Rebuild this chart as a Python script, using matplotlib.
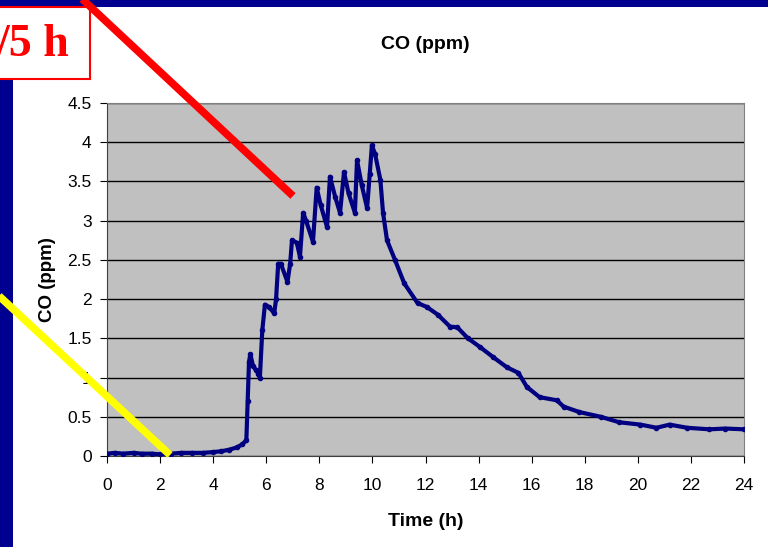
import matplotlib.pyplot as plt
from matplotlib.lines import Line2D
from matplotlib.patches import Rectangle

plt.rcParams['font.family'] = ['Liberation Sans', 'DejaVu Sans']

# CO concentration (time in h, CO in ppm)
horas = [0.0, 0.3, 0.6, 1.0, 1.3, 1.7, 2.0, 2.4, 2.8, 3.2, 3.6, 4.0, 4.3, 4.6,
         4.9, 5.1, 5.25, 5.3, 5.35, 5.4, 5.5, 5.6, 5.7, 5.76, 5.85, 5.95, 6.1,
         6.3, 6.37, 6.45, 6.55, 6.8, 6.9, 6.97, 7.15, 7.27, 7.39, 7.5, 7.76,
         7.9, 8.05, 8.29, 8.4, 8.6, 8.78, 8.93, 9.1, 9.34, 9.42, 9.6, 9.8,
         9.9, 9.98, 10.1, 10.3, 10.4, 10.55, 10.85, 11.2, 11.7, 12.05, 12.47,
         12.92, 13.2, 13.6, 14.05, 14.55, 15.07, 15.5, 15.82, 16.3, 16.95,
         17.2, 17.8, 18.6, 19.3, 20.1, 20.7, 21.2, 21.85, 22.7, 23.3, 24.0]
co = [0.03, 0.04, 0.03, 0.04, 0.03, 0.03, 0.02, 0.03, 0.04, 0.04, 0.04, 0.05,
      0.06, 0.08, 0.11, 0.15, 0.2, 0.7, 1.2, 1.3, 1.15, 1.1, 1.05, 1.0, 1.6,
      1.93, 1.9, 1.82, 2.0, 2.45, 2.45, 2.22, 2.45, 2.75, 2.72, 2.54, 3.1,
      3.0, 2.73, 3.42, 3.2, 2.92, 3.56, 3.3, 3.1, 3.62, 3.35, 3.1, 3.77,
      3.45, 3.16, 3.6, 3.96, 3.85, 3.52, 3.1, 2.75, 2.5, 2.2, 1.95, 1.9,
      1.8, 1.65, 1.64, 1.5, 1.39, 1.26, 1.13, 1.06, 0.88, 0.75, 0.71, 0.63,
      0.56, 0.5, 0.43, 0.40, 0.36, 0.40, 0.36, 0.34, 0.35, 0.34]

x_ticks = list(range(0, 25, 2))
y_ticks = [0, 0.5, 1, 1.5, 2, 2.5, 3, 3.5, 4, 4.5]
y_labels = ['0', '0.5', '1', '1.5', '2', '2.5', '3', '3.5', '4', '4.5']

fig = plt.figure(figsize=(7.68, 5.47), dpi=100)
W, H = 768.0, 547.0

# slide frame
fig.patches.append(Rectangle((0, 0), 13 / W, 1, transform=fig.transFigure,
                             facecolor='#000090', edgecolor='none', zorder=0))
fig.patches.append(Rectangle((0, 1 - 7 / H), 1, 7 / H, transform=fig.transFigure,
                             facecolor='#000090', edgecolor='none', zorder=0))

ax = fig.add_axes([107 / W, 1 - 456 / H, 637 / W, 353 / H])
ax.set_facecolor('#C0C0C0')
ax.plot(horas, co, color='#000080', lw=3, marker='o', ms=3, zorder=3)
ax.set_xlim(0, 24)
ax.set_ylim(0, 4.5)
ax.set_xticks(x_ticks)
ax.set_yticks(y_ticks)
ax.set_yticklabels(y_labels)
ax.yaxis.grid(True, color='black', lw=1)
ax.set_axisbelow(True)
ax.tick_params(direction='out', length=5, labelsize=12.5)
ax.tick_params(axis='x', pad=11)
ax.tick_params(axis='y', pad=6)
ax.spines['top'].set_color('#808080')
ax.spines['right'].set_color('#808080')
ax.spines['left'].set_color('#404040')
ax.spines['bottom'].set_color('#404040')
ax.set_title('CO (ppm)', fontsize=14, fontweight='bold', pad=39)
ax.set_xlabel('Time (h)', fontsize=14, fontweight='bold', labelpad=14)
ax.set_ylabel('CO (ppm)', fontsize=13.5, fontweight='bold', labelpad=8)

# red label box in the corner
fig.patches.append(Rectangle((-5 / W, 1 - 79 / H), 95 / W, 72 / H,
                             transform=fig.transFigure, facecolor='white',
                             edgecolor='red', lw=1.5, zorder=5))
fig.text(69 / W, 1 - 56 / H, '/5 h', color='red', fontsize=33, fontweight='bold',
         family='Liberation Serif', ha='right', va='baseline', zorder=6)

# pointer lines drawn over the slide
fig.lines.append(Line2D([80 / W, 293 / W], [1 + 3 / H, 1 - 196 / H],
                        transform=fig.transFigure, color='red', lw=5.5,
                        solid_capstyle='butt', zorder=7))
fig.lines.append(Line2D([-2 / W, 170 / W], [1 - 295 / H, 1 - 455 / H],
                        transform=fig.transFigure, color='#FFFF00', lw=5.5,
                        solid_capstyle='butt', zorder=7))

fig.savefig('out.png', dpi=100)
